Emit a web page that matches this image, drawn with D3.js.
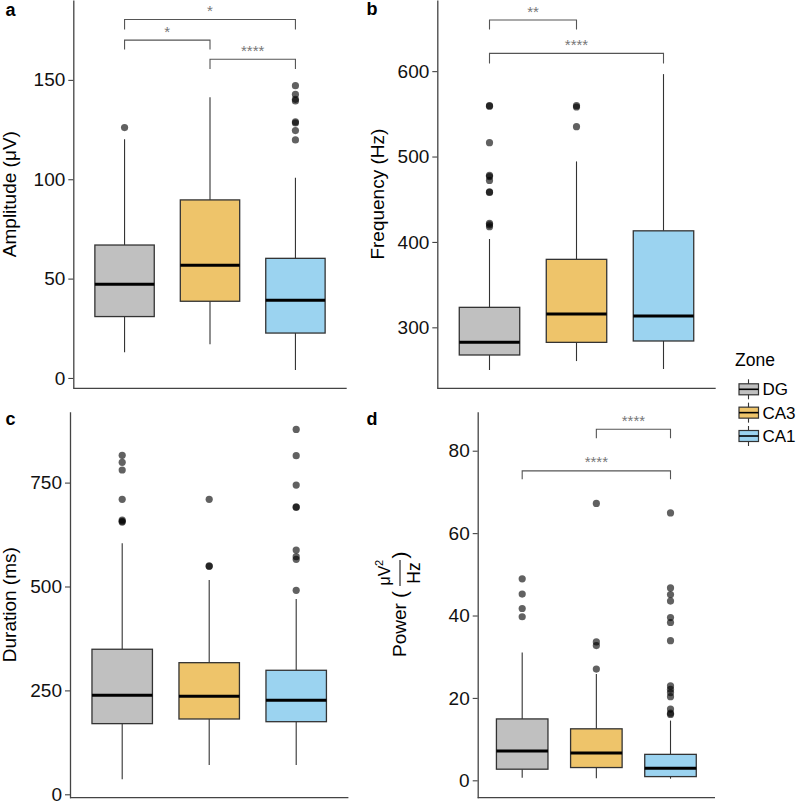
<!DOCTYPE html>
<html>
<head>
<meta charset="utf-8">
<script src="https://cdn.jsdelivr.net/npm/d3@7"></script>
<style>
  html, body { margin: 0; padding: 0; background: #fff; }
  svg { display: block; font-family: "Liberation Sans", Arial, Helvetica, sans-serif; }
</style>
</head>
<body>
<svg id="chart" width="797" height="805"></svg>
<script>
// ---------------- DATA ----------------
const categories = ["DG", "CA3", "CA1"];
const zoneColors = ["#C0C0C0", "#EEC46A", "#9BD3F0"];

// a: Amplitude (µV)
const ampTicks = [0, 50, 100, 150];
const ampQ1 = [30.9, 38.6, 22.6];
const ampMedian = [47.2, 56.7, 39.1];
const ampQ3 = [66.9, 89.6, 60.2];
const ampLower = [12.9, 17.0, 4.0];
const ampUpper = [120.1, 141.3, 100.8];
const ampOutliers = [[126.0], [], [147.1, 142.7, 140.2, 139.4, 128.9, 128.3, 124.5, 119.8]];
const ampSig = [
  { from: 0, to: 2, y: 180.4, leg: 5.0, label: "*" },
  { from: 0, to: 1, y: 170.0, leg: 4.7, label: "*" },
  { from: 1, to: 2, y: 160.4, leg: 4.9, label: "****" }
];

// b: Frequency (Hz)
const freqTicks = [300, 400, 500, 600];
const freqQ1 = [267.6, 282.4, 284.0];
const freqMedian = [282.4, 315.6, 313.2];
const freqQ3 = [323.4, 379.6, 413.0];
const freqLower = [250.0, 260.5, 251.2];
const freqUpper = [403.4, 494.3, 596.5];
const freqOutliers = [
  [559.5, 559.0, 516.2, 478.0, 476.5, 472.0, 458.5, 458.0, 421.8, 420.0, 417.8],
  [559.5, 558.0, 535.0],
  []
];
const freqSig = [
  { from: 0, to: 1, y: 659.8, leg: 10.9, label: "**" },
  { from: 0, to: 2, y: 620.8, leg: 11.8, label: "****" }
];

// c: Duration (ms)
const durTicks = [0, 250, 500, 750];
const durQ1 = [170.0, 181.2, 174.7];
const durMedian = [238.2, 235.8, 226.2];
const durQ3 = [349.0, 316.7, 298.4];
const durLower = [36.0, 70.5, 70.5];
const durUpper = [604.0, 515.6, 470.0];
const durOutliers = [
  [815.7, 798.8, 780.3, 709.8, 660.0, 657.0, 655.0],
  [709.8, 549.5, 548.6],
  [878.0, 814.7, 744.0, 691.5, 690.6, 587.8, 571.7, 565.5, 490.9]
];
const durSig = [];

// d: Power (µV²/Hz)
const powTicks = [0, 20, 40, 60, 80];
const powQ1 = [2.7, 3.1, 0.9];
const powMedian = [7.1, 6.6, 2.9];
const powQ3 = [14.9, 12.5, 6.3];
const powLower = [0.6, 0.5, 0.4];
const powUpper = [31.0, 25.8, 14.5];
const powOutliers = [
  [48.9, 45.2, 41.7, 39.7],
  [67.2, 33.6, 32.7, 27.0],
  [64.9, 46.7, 45.1, 43.5, 39.5, 38.3, 33.9, 22.9, 22.1, 21.3, 20.3, 17.3, 16.3, 16.0]
];
const powSig = [
  { from: 1, to: 2, y: 85.2, leg: 2.2, label: "****" },
  { from: 0, to: 2, y: 75.1, leg: 2.0, label: "****" }
];

// ---------------- LAYOUT ----------------
const svg = d3.select("#chart");
const AXIS_COLOR = "#444";
const BOX_STROKE = "#333";

const panels = [
  { tag: "a", q1: ampQ1, med: ampMedian, q3: ampQ3, lo: ampLower, hi: ampUpper, out: ampOutliers, sig: ampSig,
    ticks: ampTicks, domain: [-5.2, 190.2], x0: 73.3, x1: 346.7, yTop: 0, yBottom: 388.3,
    title: "Amplitude (\u03BCV)", titleX: 15.5, tagX: 5.5, tagY: 15.5 },
  { tag: "b", q1: freqQ1, med: freqMedian, q3: freqQ3, lo: freqLower, hi: freqUpper, out: freqOutliers, sig: freqSig,
    ticks: freqTicks, domain: [228.6, 683.3], x0: 437.3, x1: 715.7, yTop: 0, yBottom: 388.3,
    title: "Frequency (Hz)", titleX: 384, tagX: 366.5, tagY: 15 },
  { tag: "c", q1: durQ1, med: durMedian, q3: durQ3, lo: durLower, hi: durUpper, out: durOutliers, sig: durSig,
    ticks: durTicks, domain: [-8.2, 920.6], x0: 70, x1: 348.4, yTop: 411.7, yBottom: 797.7,
    title: "Duration (ms)", titleX: 15.5, tagX: 5.5, tagY: 425 },
  { tag: "d", q1: powQ1, med: powMedian, q3: powQ3, lo: powLower, hi: powUpper, out: powOutliers, sig: powSig,
    ticks: powTicks, domain: [-4.22, 89.47], x0: 477.7, x1: 715, yTop: 411.7, yBottom: 797.7,
    title: null, titleX: 406, tagX: 366.5, tagY: 425 }
];

panels.forEach(p => {
  const g = svg.append("g");
  const x = d3.scalePoint().domain(categories).range([p.x0, p.x1]).padding(0.6);
  const y = d3.scaleLinear().domain(p.domain).range([p.yBottom, p.yTop]);
  const bw = x.step() * 0.695;

  categories.forEach((c, i) => {
    const cx = x(c);
    g.append("line").attr("x1", cx).attr("x2", cx).attr("y1", y(p.hi[i])).attr("y2", y(p.q3[i]))
      .attr("stroke", BOX_STROKE).attr("stroke-width", 1.1);
    g.append("line").attr("x1", cx).attr("x2", cx).attr("y1", y(p.q1[i])).attr("y2", y(p.lo[i]))
      .attr("stroke", BOX_STROKE).attr("stroke-width", 1.1);
    g.append("rect").attr("x", cx - bw / 2).attr("width", bw)
      .attr("y", y(p.q3[i])).attr("height", y(p.q1[i]) - y(p.q3[i]))
      .attr("fill", zoneColors[i]).attr("stroke", BOX_STROKE).attr("stroke-width", 1.3);
    g.append("line").attr("x1", cx - bw / 2).attr("x2", cx + bw / 2)
      .attr("y1", y(p.med[i])).attr("y2", y(p.med[i]))
      .attr("stroke", "#000").attr("stroke-width", 3);
    g.selectAll(null).data(p.out[i]).enter().append("circle")
      .attr("cx", cx).attr("cy", d => y(d)).attr("r", 3.6)
      .attr("fill", "#000").attr("fill-opacity", 0.62);
  });

  p.sig.forEach(s => {
    const xa = x(categories[s.from]), xb = x(categories[s.to]);
    const path = d3.path();
    path.moveTo(xa, y(s.y - s.leg));
    path.lineTo(xa, y(s.y));
    path.lineTo(xb, y(s.y));
    path.lineTo(xb, y(s.y - s.leg));
    g.append("path").attr("d", path.toString()).attr("fill", "none")
      .attr("stroke", "#555").attr("stroke-width", 1.1);
    g.append("text").attr("x", (xa + xb) / 2).attr("y", y(s.y) - 3.5)
      .attr("text-anchor", "middle").attr("font-size", 15).attr("fill", "#777")
      .text(s.label);
  });

  const ax = g.append("g").attr("transform", `translate(${p.x0},0)`)
    .call(d3.axisLeft(y).tickValues(p.ticks).tickSize(5).tickSizeOuter(0).tickPadding(3));
  ax.select(".domain").attr("stroke", AXIS_COLOR).attr("stroke-width", 1.3);
  ax.selectAll(".tick line").attr("stroke", AXIS_COLOR).attr("stroke-width", 1.1);
  ax.selectAll(".tick text").attr("font-size", 19).attr("fill", "#111")
    .attr("font-family", "'Liberation Sans', Arial, sans-serif");
  g.append("line").attr("x1", p.x0).attr("x2", p.x1).attr("y1", p.yBottom).attr("y2", p.yBottom)
    .attr("stroke", AXIS_COLOR).attr("stroke-width", 1.3);

  g.append("text").attr("x", p.tagX).attr("y", p.tagY).attr("font-size", 18).attr("font-weight", "bold")
    .attr("fill", "#000").text(p.tag);

  const cy = (p.yTop + p.yBottom) / 2;
  if (p.title) {
    g.append("text").attr("transform", `translate(${p.titleX},${cy}) rotate(-90)`)
      .attr("text-anchor", "middle").attr("font-size", 19).attr("fill", "#000").text(p.title);
  } else {
    const t = g.append("g").attr("transform", `translate(${p.titleX},657) rotate(-90)`);
    t.append("text").attr("x", 0).attr("y", 0).attr("font-size", 19).attr("fill", "#000").text("Power");
    t.append("text").attr("x", 59).attr("y", 1).attr("font-size", 21).attr("fill", "#000").text("(");
    t.append("text").attr("x", 98.5).attr("y", 1).attr("font-size", 21).attr("fill", "#000").text(")");
    t.append("line").attr("x1", 71).attr("x2", 97).attr("y1", -6).attr("y2", -6)
      .attr("stroke", "#000").attr("stroke-width", 1);
    t.append("text").attr("x", 81.5).attr("y", -16).attr("text-anchor", "middle")
      .attr("font-size", 16).attr("fill", "#000").text("\u03BCV");
    t.append("text").attr("x", 91).attr("y", -23)
      .attr("font-size", 11).attr("fill", "#000").text("2");
    t.append("text").attr("x", 84).attr("y", 14).attr("text-anchor", "middle")
      .attr("font-size", 17.5).attr("fill", "#000").text("Hz");
  }
});

// ---------------- LEGEND ----------------
const lg = svg.append("g");
lg.append("text").attr("x", 735).attr("y", 365.5).attr("font-size", 17.5).attr("fill", "#000").text("Zone");
const keyY = d3.scalePoint().domain(categories).range([389.3, 436]);
categories.forEach((c, i) => {
  const cy = keyY(c);
  lg.append("line").attr("x1", 748.5).attr("x2", 748.5).attr("y1", cy - 10).attr("y2", cy + 10)
    .attr("stroke", BOX_STROKE).attr("stroke-width", 1.1);
  lg.append("rect").attr("x", 739).attr("y", cy - 5.5).attr("width", 19.5).attr("height", 11)
    .attr("fill", zoneColors[i]).attr("stroke", BOX_STROKE).attr("stroke-width", 1.2);
  lg.append("line").attr("x1", 739).attr("x2", 758.5).attr("y1", cy).attr("y2", cy)
    .attr("stroke", "#000").attr("stroke-width", 1.6);
  lg.append("text").attr("x", 762.5).attr("y", cy).attr("dy", "0.36em")
    .attr("font-size", 17).attr("fill", "#000").text(c);
});
</script>
</body>
</html>
